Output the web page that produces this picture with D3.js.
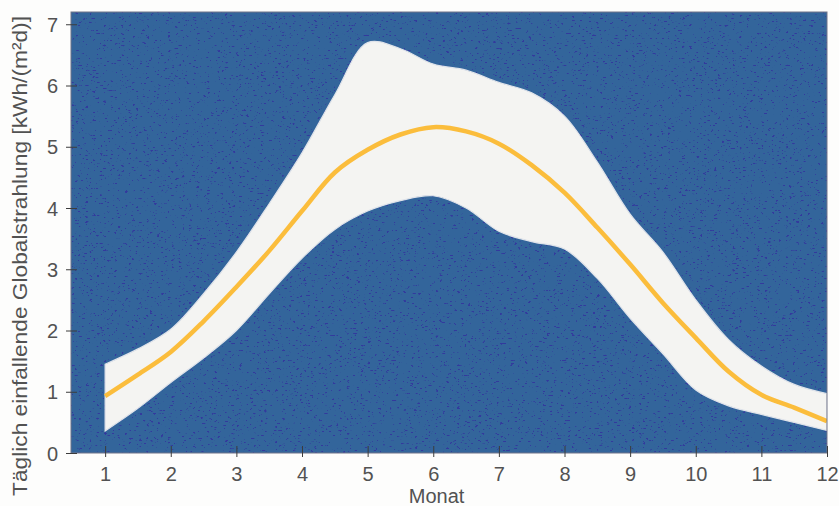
<!DOCTYPE html>
<html lang="de">
<head>
  <meta charset="UTF-8">
  <title>Tägliche Globalstrahlung</title>
  <style>
    body { margin: 0; background: #fdfdfc; overflow: hidden; }
    svg { display: block; }
    .axis text { font-family: "Liberation Sans", Arial, sans-serif; font-size: 20px; fill: #525252; }
    .axis path { display: none; }
    .axis line { stroke: #3c3c3c; stroke-width: 1; }
    .title { font-family: "Liberation Sans", Arial, sans-serif; fill: #525252; }
  </style>
</head>
<body>
  <svg width="839" height="506"></svg>
  <script src="https://d3js.org/d3.v7.min.js"></script>
  <script>
    // Monat (halbe Monatsschritte)
    const months = [1, 1.5, 2, 2.5, 3, 3.5, 4, 4.5, 5, 5.5, 6, 6.5, 7, 7.5, 8, 8.5, 9, 9.5, 10, 10.5, 11, 11.5, 12];
    // obere Grenze des Streubereichs
    const upper = [1.45, 1.7, 2.02, 2.6, 3.28, 4.07, 4.9, 5.85, 6.7, 6.6, 6.35, 6.25, 6.05, 5.88, 5.5, 4.75, 3.9, 3.28, 2.5, 1.85, 1.42, 1.12, 0.97];
    // Mittelwert
    const mean = [0.93, 1.28, 1.65, 2.15, 2.71, 3.3, 3.95, 4.58, 4.95, 5.2, 5.32, 5.25, 5.05, 4.7, 4.25, 3.68, 3.08, 2.45, 1.88, 1.33, 0.95, 0.74, 0.52];
    // untere Grenze
    const lower = [0.36, 0.73, 1.15, 1.55, 2.0, 2.6, 3.18, 3.65, 3.95, 4.12, 4.2, 4.0, 3.62, 3.45, 3.33, 2.85, 2.2, 1.62, 1.03, 0.77, 0.63, 0.5, 0.37];

    const xTicks = [1, 2, 3, 4, 5, 6, 7, 8, 9, 10, 11, 12];
    const yTicks = [0, 1, 2, 3, 4, 5, 6, 7];

    const svg = d3.select("svg");
    const plot = { left: 71, right: 827, top: 12, bottom: 453 };

    const x = d3.scaleLinear().domain([0.48, 12]).range([plot.left, plot.right]);
    const y = d3.scaleLinear().domain([0, 7.2]).range([plot.bottom, plot.top]);

    const rows = months.map((m, i) => ({ m, lo: lower[i], hi: upper[i], mean: mean[i] }));

    const defs = svg.append("defs");
    defs.append("clipPath").attr("id", "clip")
      .append("rect")
      .attr("x", plot.left).attr("y", plot.top)
      .attr("width", plot.right - plot.left).attr("height", plot.bottom - plot.top);

    // Druckraster / Sprenkel im Hintergrund
    const speckle = defs.append("filter").attr("id", "speckle")
      .attr("x", 0).attr("y", 0).attr("width", 1).attr("height", 1)
      .attr("color-interpolation-filters", "sRGB");
    speckle.append("feTurbulence")
      .attr("type", "fractalNoise").attr("baseFrequency", "0.28 0.6")
      .attr("numOctaves", 2).attr("seed", 7).attr("result", "noise");
    speckle.append("feColorMatrix")
      .attr("in", "noise").attr("type", "matrix")
      .attr("values", "0 0 0 0 0.2  0 0 0 0 0.19  0 0 0 0 0.62  16 0 0 0 -10.6")
      .attr("result", "dots");
    speckle.append("feComposite").attr("in", "dots").attr("in2", "SourceGraphic").attr("operator", "in");

    svg.append("rect")
      .attr("x", plot.left).attr("y", plot.top)
      .attr("width", plot.right - plot.left).attr("height", plot.bottom - plot.top)
      .attr("fill", "#33659b");

    svg.append("rect")
      .attr("x", plot.left).attr("y", plot.top)
      .attr("width", plot.right - plot.left).attr("height", plot.bottom - plot.top)
      .attr("fill", "#000")
      .attr("filter", "url(#speckle)")
      .attr("opacity", 0.8);

    const g = svg.append("g").attr("clip-path", "url(#clip)");

    const curve = d3.curveCatmullRom.alpha(0.5);

    const band = d3.area()
      .x(d => x(d.m))
      .y0(d => y(d.lo))
      .y1(d => y(d.hi))
      .curve(curve);

    g.append("path")
      .datum(rows)
      .attr("d", band)
      .attr("fill", "#f4f4f2")
      .attr("stroke", "#dfe3ea")
      .attr("stroke-width", 1.2);

    const line = d3.line()
      .x(d => x(d.m))
      .y(d => y(d.mean))
      .curve(curve);

    g.append("path")
      .datum(rows)
      .attr("d", line)
      .attr("fill", "none")
      .attr("stroke", "#fbbd3c")
      .attr("stroke-width", 4.5);

    // Rahmen
    svg.append("rect")
      .attr("x", plot.left).attr("y", plot.top)
      .attr("width", plot.right - plot.left).attr("height", plot.bottom - plot.top)
      .attr("fill", "none")
      .attr("stroke", "#707488")
      .attr("stroke-width", 1);

    // Achsen
    const xAxis = svg.append("g")
      .attr("class", "axis")
      .attr("transform", `translate(0,${plot.bottom})`)
      .call(d3.axisBottom(x).tickValues(xTicks).tickSize(4).tickPadding(10).tickFormat(d3.format("d")));
    xAxis.selectAll(".tick line").attr("y1", -7);

    const yAxis = svg.append("g")
      .attr("class", "axis")
      .attr("transform", `translate(${plot.left},0)`)
      .call(d3.axisLeft(y).tickValues(yTicks).tickSize(5).tickPadding(8).tickFormat(d3.format("d")));
    yAxis.selectAll(".tick line").attr("x1", -5).attr("x2", 6);
    yAxis.selectAll(".tick text").attr("dy", "0.36em");

    svg.append("text")
      .attr("class", "title")
      .attr("x", x(6.05)).attr("y", 503)
      .attr("text-anchor", "middle")
      .attr("font-size", 20)
      .text("Monat");

    svg.append("text")
      .attr("class", "title")
      .attr("transform", `translate(27,${(15 + 497) / 2}) rotate(-90)`)
      .attr("text-anchor", "middle")
      .attr("font-size", 20.5)
      .attr("textLength", 480)
      .attr("lengthAdjust", "spacingAndGlyphs")
      .text("Täglich einfallende Globalstrahlung  [kWh/(m²d)]");
  </script>
</body>
</html>
